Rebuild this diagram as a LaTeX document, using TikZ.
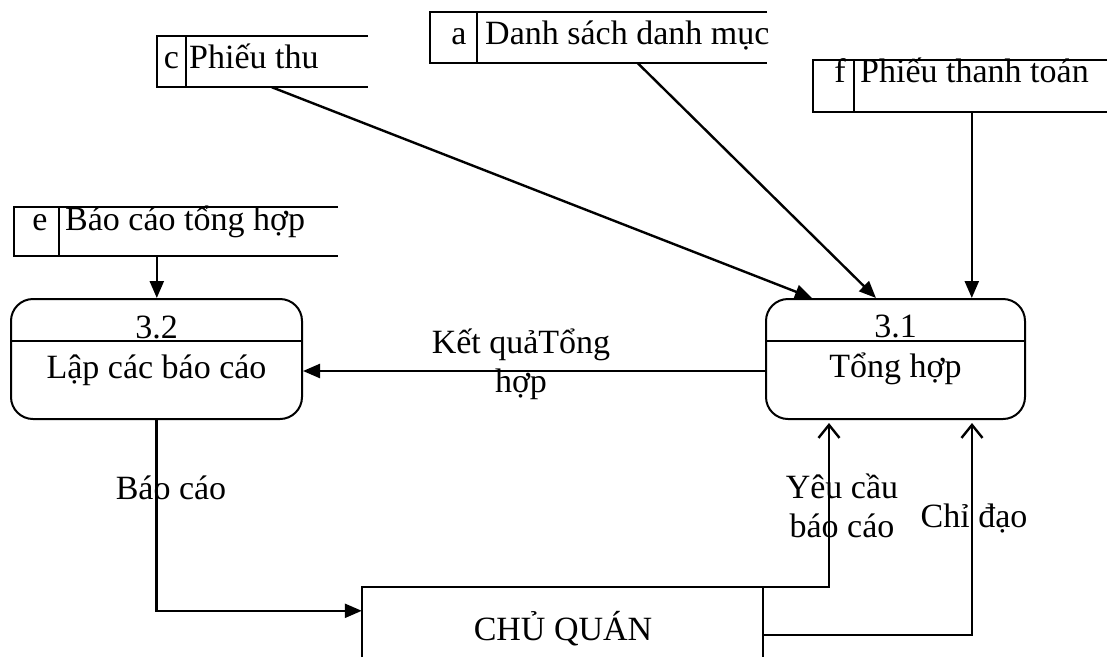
\documentclass[tikz,border=0pt]{standalone}
\usepackage{fontspec}
\setmainfont{Liberation Serif}
\usetikzlibrary{arrows.meta}
\begin{document}
\begin{tikzpicture}[x=1pt,y=-1pt,
  font=\fontsize{34}{38.5}\selectfont,
  txt/.style={inner sep=0pt, anchor=base},
  multi/.style={inner sep=0pt, anchor=base, align=center},
  proc/.style={draw, line width=2pt, rounded corners=22pt, inner sep=0pt},
  frame/.style={inner sep=0pt},
  edge/.style={line width=2pt},
  flow/.style={line width=2.4pt, -{Triangle[length=17pt,width=14pt]}},
  reply/.style={line width=2.4pt, -{Straight Barb[length=13pt,width=21pt]}},
]
\useasboundingbox (0,0) rectangle (1112,657);

% data stores: open-ended boxes with an id cell
\node[frame, minimum width=211pt, minimum height=51pt] (sc) at (262.5,61.5) {};
\draw[edge] (sc.north east) -- (sc.north west) -- (sc.south west) -- (sc.south east);
\draw[edge] ([xshift=29pt]sc.north west) -- ([xshift=29pt]sc.south west);
\node[txt] (scid) at (171.5,68) {c};
\node[txt, anchor=base west] (scn) at (189,68) {Phiếu thu};

\node[frame, minimum width=337pt, minimum height=51pt] (sa) at (598.5,37.5) {};
\draw[edge] (sa.north east) -- (sa.north west) -- (sa.south west) -- (sa.south east);
\draw[edge] ([xshift=47pt]sa.north west) -- ([xshift=47pt]sa.south west);
\node[txt] (said) at (459,44) {a};
\node[txt, anchor=base west] (san) at (485,44) {Danh sách danh mục};

\node[frame, minimum width=294pt, minimum height=52pt] (sf) at (960,86) {};
\draw[edge] (sf.north east) -- (sf.north west) -- (sf.south west) -- (sf.south east);
\draw[edge] ([xshift=41pt]sf.north west) -- ([xshift=41pt]sf.south west);
\node[txt] (sfid) at (840,82) {f};
\node[txt, anchor=base west] (sfn) at (860,82) {Phiếu thanh toán};

\node[frame, minimum width=324pt, minimum height=49pt] (se) at (176,231.5) {};
\draw[edge] (se.north east) -- (se.north west) -- (se.south west) -- (se.south east);
\draw[edge] ([xshift=45pt]se.north west) -- ([xshift=45pt]se.south west);
\node[txt] (seid) at (40,230) {e};
\node[txt, anchor=base west] (sen) at (65,230) {Báo cáo tổng hợp};

% processes
\node[proc, minimum width=291pt, minimum height=120pt] (p32) at (156.5,359) {};
\draw[edge] (p32.west |- 0,341) -- (p32.east |- 0,341);
\node[txt] (p32id) at (156.5,338) {3.2};
\node[txt] (p32n) at (156.5,378) {Lập các báo cáo};

\node[proc, minimum width=259pt, minimum height=120pt] (p31) at (895.5,359) {};
\draw[edge] (p31.west |- 0,341) -- (p31.east |- 0,341);
\node[txt] (p31id) at (895.5,337) {3.1};
\node[txt] (p31n) at (895.5,377) {Tổng hợp};

% external entity (continues below the page edge)
\node[frame, minimum width=401pt, minimum height=70pt] (cq) at (562.5,622) {};
\draw[edge] (cq.south west) -- (cq.north west) -- (cq.north east) -- (cq.south east);
\node[txt] (cqn) at (563,640) {CHỦ QUÁN};

% flows into 3.1
\draw[flow] ([xshift=115pt]sc.south west) -- ([xshift=47pt]p31.north west);
\draw[flow] ([xshift=208pt]sa.south west) -- ([xshift=111pt]p31.north west);
\draw[flow] ([xshift=159pt]sf.south west) coordinate (fo) -- (fo |- p31.north);

% flow into 3.2
\draw[flow] ([xshift=143pt]se.south west) coordinate (eo) -- (eo |- p32.north);

% 3.1 -> 3.2
\draw[flow] ([yshift=-12pt]p31.west) coordinate (ko) -- (ko -| p32.east);
\node[multi] (kq) at (521,392) {Kết quảTổng\\hợp};

% 3.2 -> CHỦ QUÁN
\draw[flow] (p32.south) |- ([yshift=-24pt]cq.north west);
\node[txt] (bc) at (171,499) {Báo cáo};

% CHỦ QUÁN -> 3.1
\draw[reply] (cq.north east) -| ([xshift=64pt,yshift=-3pt]p31.south west);
\node[multi] (yc) at (842,537) {Yêu cầu\\báo cáo};
\draw[reply] ([yshift=-48pt]cq.north east) -| ([xshift=207pt,yshift=-3pt]p31.south west);
\node[txt] (cd) at (974,527) {Chỉ đạo};
\end{tikzpicture}
\end{document}
